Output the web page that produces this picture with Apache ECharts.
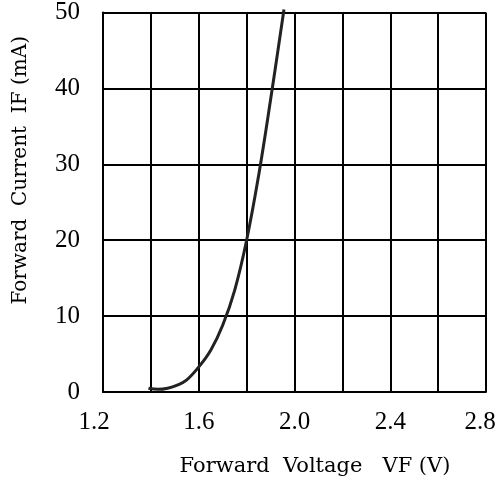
<!DOCTYPE html>
<html>
<head>
<meta charset="utf-8">
<script src="https://cdn.jsdelivr.net/npm/echarts@6/dist/echarts.min.js"></script>
<style>html,body{margin:0;padding:0;background:#fff}#c{width:499px;height:482px}</style>
</head>
<body>
<div id="c"></div>
<script>
var voltage = [1.39, 1.43, 1.47, 1.51, 1.55, 1.60, 1.65, 1.70, 1.75, 1.80, 1.85, 1.90, 1.956];
var current = [0.5, 0.35, 0.5, 0.9, 1.6, 3.3, 5.5, 8.8, 13.4, 20, 28.5, 38.5, 50.4];
var xTicks = [1.2, 1.6, 2.0, 2.4, 2.8];
var xTitle = 'Forward  Voltage   VF (V)';
var yTitle = 'Forward  Current  IF (mA)';

var pts = voltage.map(function (v, i) { return [v, current[i]]; });
var font = 'Liberation Serif';
var tfont = 'DejaVu Serif';
var lblStyle = { fontFamily: font, fontSize: 25, color: '#000' };
var chart = echarts.init(document.getElementById('c'));
chart.setOption({
  animation: false,
  grid: { left: 103, right: 13, top: 11, bottom: 89, containLabel: false },
  xAxis: {
    type: 'value', min: 1.2, max: 2.8, interval: 0.2,
    name: xTitle, nameLocation: 'middle', nameGap: 64,
    nameTextStyle: { fontFamily: tfont, fontSize: 21, color: '#000', padding: [0, 0, 0, 41] },
    axisLine: { show: true, lineStyle: { color: '#000', width: 2 } },
    axisTick: { show: false },
    axisLabel: {
      fontFamily: font, fontSize: 25, color: '#000', margin: 18,
      formatter: function (v) {
        for (var i = 0; i < xTicks.length; i++) {
          if (Math.abs(xTicks[i] - v) < 1e-6) {
            var s = xTicks[i].toFixed(1);
            if (i === 0) return '{l|' + s + '}';
            if (i === xTicks.length - 1) return '{r|' + s + '}';
            return '{n|' + s + '}';
          }
        }
        return '';
      },
      rich: {
        n: lblStyle,
        l: Object.assign({ padding: [0, 18, 0, 0] }, lblStyle),
        r: Object.assign({ padding: [0, 12, 0, 0] }, lblStyle)
      }
    },
    splitLine: { show: true, lineStyle: { color: '#000', width: 2 } }
  },
  yAxis: {
    type: 'value', min: 0, max: 50, interval: 10,
    name: yTitle, nameLocation: 'middle', nameGap: 72, nameRotate: 90,
    nameTextStyle: { fontFamily: tfont, fontSize: 20, color: '#000', padding: [0, 0, 0, 64] },
    axisLine: { show: true, lineStyle: { color: '#000', width: 2 } },
    axisTick: { show: false },
    axisLabel: { fontFamily: font, fontSize: 25, color: '#000', margin: 23 },
    splitLine: { show: true, lineStyle: { color: '#000', width: 2 } }
  },
  series: [{
    type: 'line', data: pts, smooth: 0.4, showSymbol: false, clip: false,
    lineStyle: { color: '#222', width: 3 }
  }]
});
</script>
</body>
</html>
